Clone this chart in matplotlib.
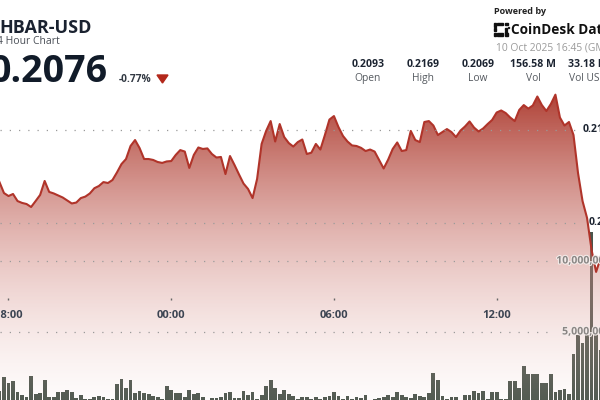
import numpy as np
import pandas as pd
import matplotlib
matplotlib.use("Agg")
import matplotlib.pyplot as plt
import matplotlib.dates as mdates
import matplotlib.transforms as mtransforms
import matplotlib.patheffects as pe
from matplotlib.patches import Rectangle, Polygon

# HBAR-USD, 10 minute points (visible part of the 24h window)
start = "2025-10-09 17:40"
prices = [
    0.21220, 0.21161, 0.21145, 0.21156, 0.21118, 0.21108, 0.21102, 0.21086, 0.21118, 0.21151,
    0.21226, 0.21167, 0.21159, 0.21148, 0.21137, 0.21121, 0.21105, 0.21110, 0.21134, 0.21142,
    0.21159, 0.21187, 0.21199, 0.21220, 0.21215, 0.21231, 0.21272, 0.21317, 0.21344, 0.21414,
    0.21446, 0.21403, 0.21344, 0.21344, 0.21339, 0.21328, 0.21323, 0.21331, 0.21333, 0.21366,
    0.21392, 0.21384, 0.21296, 0.21366, 0.21406, 0.21398, 0.21401, 0.21371, 0.21352, 0.21355,
    0.21263, 0.21360, 0.21312, 0.21261, 0.21212, 0.21183, 0.21134, 0.21237, 0.21425, 0.21495,
    0.21548, 0.21438, 0.21532, 0.21462, 0.21430, 0.21411, 0.21435, 0.21449, 0.21371, 0.21378,
    0.21425, 0.21395, 0.21473, 0.21556, 0.21575, 0.21516, 0.21468, 0.21438, 0.21417, 0.21414,
    0.21404, 0.21387, 0.21395, 0.21384, 0.21339, 0.21293, 0.21341, 0.21398, 0.21433, 0.21387,
    0.21392, 0.21495, 0.21446, 0.21435, 0.21543, 0.21548, 0.21524, 0.21473, 0.21489, 0.21505,
    0.21489, 0.21462, 0.21497, 0.21519, 0.21546, 0.21513, 0.21492, 0.21508, 0.21532, 0.21554,
    0.21594, 0.21605, 0.21591, 0.21567, 0.21548, 0.21608, 0.21634, 0.21615, 0.21632, 0.21680,
    0.21634, 0.21602, 0.21640, 0.21690, 0.21567, 0.21524, 0.21543, 0.21473, 0.21269, 0.21118,
    0.21027, 0.20855, 0.20737, 0.20812]
# volume in millions of HBAR
volumes_m = [
    0.85, 1.85, 1.39, 1.57, 0.80, 0.56, 0.40, 1.90, 0.63, 0.68,
    1.62, 0.40, 0.40, 0.75, 0.75, 0.92, 0.80, 0.33, 0.56, 0.28,
    0.28, 0.45, 0.52, 0.40, 0.30, 0.28, 1.31, 1.69, 1.08, 1.62,
    0.73, 0.85, 0.68, 0.61, 0.52, 0.45, 0.30, 1.22, 0.92, 0.68,
    0.68, 0.45, 0.92, 0.63, 0.68, 0.40, 0.21, 0.38, 0.38, 0.45,
    0.68, 0.80, 0.33, 0.33, 0.87, 0.56, 0.80, 0.30, 0.54, 1.20,
    1.62, 1.08, 0.61, 0.92, 0.61, 0.52, 0.30, 0.45, 0.45, 0.30,
    0.45, 0.30, 0.45, 0.49, 0.75, 0.52, 0.30, 0.52, 0.30, 0.40,
    0.38, 0.56, 0.21, 0.30, 0.33, 0.45, 0.59, 0.40, 0.77, 0.54,
    0.45, 0.33, 0.63, 0.49, 0.40, 0.68, 2.13, 1.62, 0.49, 0.30,
    0.42, 0.42, 0.21, 0.54, 0.54, 0.85, 0.68, 0.82, 0.30, 0.75,
    0.77, 0.30, 0.26, 1.53, 1.53, 1.08, 2.63, 2.07, 2.07, 2.03,
    1.41, 1.41, 2.07, 0.80, 0.92, 0.96, 0.63, 3.47, 4.80, 4.20,
    5.00, 12.05, 5.10, 3.70]

price_ticks = [0.21, 0.215]
price_tick_labels = ["0.21", "0.215"]
volume_ticks = [5_000_000, 10_000_000]
volume_tick_labels = ["5,000,000", "10,000,000"]
time_ticks = pd.to_datetime(["2025-10-09 18:00", "2025-10-10 00:00",
                             "2025-10-10 06:00", "2025-10-10 12:00"])

stat_values = ["0.2093", "0.2169", "0.2069", "156.58 M", "33.18 M"]
stat_labels = ["Open", "High", "Low", "Vol", "Vol USD"]

times = pd.date_range(start, periods=len(prices), freq="10min")
tn = mdates.date2num(times)
volumes = np.array(volumes_m) * 1e6

FONT = "Open Sans"
W, H = 600, 400


def fx(px):
    return px / W


def fy(py):
    return 1 - py / H


fig = plt.figure(figsize=(6, 4), dpi=100)
fig.patch.set_facecolor("white")

# volume pane (drawn first, underneath), price pane on top
axv = fig.add_axes([0, 0, 1, 1])
ax = fig.add_axes([0, 0, 1, 1], sharex=axv)
ax.patch.set_visible(False)
axv.axis("off")
ax.axis("off")

t0 = mdates.date2num(pd.Timestamp("2025-10-09 18:00"))
axv.set_xlim(t0 - 0.3134 / 24, t0 + 21.8105 / 24)
ax.set_ylim(0.200484, 0.221989)
axv.set_ylim(211_268, 28_380_282)

# volume bars
axv.bar(tn, volumes, width=8.4 / 1440, color="#4a554c", edgecolor="none")

# gradient area under the price line
poly = ax.fill_between(tn, prices, 0.19, facecolor="none", edgecolor="none")
yy = np.arange(H) + 0.5
f = np.clip((yy - 85) / (403 - 85), 0, 1)
c_top = np.array([168, 48, 36]) / 255
c_bot = np.array([240, 200, 196]) / 255
grad = np.zeros((H, 1, 4))
grad[:, 0, :3] = c_top + (c_bot - c_top) * f[:, None]
grad[:, 0, 3] = 0.96 + (0.05 - 0.96) * f
im = ax.imshow(grad, extent=[0, 1, 0, 1], transform=ax.transAxes,
               aspect="auto", origin="upper", interpolation="bilinear")
im.set_clip_path(poly.get_paths()[0], transform=ax.transData)

ax.plot(tn, prices, color="#b0342a", lw=1.5, solid_joinstyle="round")

# dotted grid lines + right-hand labels
dots = (0, (1, 6.4))
ptrans = mtransforms.blended_transform_factory(ax.transAxes, ax.transData)
for p, lab in zip(price_ticks, price_tick_labels):
    ax.axhline(p, xmin=0, xmax=0.965, color="#9a9a9a", lw=0.9, ls=dots)
    ax.text(1.016, p, lab, transform=ptrans, ha="right", va="center", fontsize=7.6,
            fontweight="bold", color="#1c2431", family=FONT, clip_on=False)
vtrans = mtransforms.blended_transform_factory(ax.transAxes, axv.transData)
for v, lab in zip(volume_ticks, volume_tick_labels):
    ax.plot([0, 0.92], [v, v], transform=vtrans, color="#9a9a9a", lw=0.9, ls=dots)
    ax.text(1.017, v, lab, transform=vtrans, ha="right", va="center", fontsize=7.6,
            fontweight="bold", color="#8a8684", family=FONT, clip_on=False,
            path_effects=[pe.withStroke(linewidth=1.5, foreground="#f4ecea")])

# time axis sitting between the two panes
axx = fig.add_axes([0, fy(298), 1, 0.0001], sharex=axv)
axx.patch.set_visible(False)
for s in axx.spines.values():
    s.set_visible(False)
axx.yaxis.set_visible(False)
axx.set_xticks(mdates.date2num(time_ticks))
axx.xaxis.set_major_formatter(mdates.DateFormatter("%H:%M"))
axx.tick_params(axis="x", length=1.5, width=1, color="#666666", pad=7,
                labelsize=8, labelcolor="#3c4452")
for lbl in axx.get_xticklabels():
    lbl.set_fontweight("bold")
    lbl.set_family(FONT)

# header, left
fig.text(fx(-1), fy(33), "HBAR-USD", fontsize=13, fontweight="bold", color="#1a2230", family=FONT)
fig.text(fx(-9), fy(44), "24 Hour Chart", fontsize=7.5, color="#4a4f57", family=FONT)
fig.text(fx(-10), fy(82), "0.2076", fontsize=27, fontweight="bold", color="#111b29", family=FONT)
fig.text(fx(119), fy(82), "-0.77%", fontsize=7.3, fontweight="bold", color="#333a44", family=FONT)
fig.patches.append(Polygon([[fx(157), fy(75)], [fx(168), fy(75)], [fx(162.5), fy(83)]],
                           closed=True, transform=fig.transFigure, color="#b3281b"))

# header, right
fig.text(fx(494), fy(13.5), "Powered by", fontsize=6.5, fontweight="bold", color="#222222", family=FONT)
for (x0, y0, w, h) in [(494, 23, 2.2, 3.5), (494, 28, 2.2, 3), (494, 32.5, 2.2, 3.2),
                       (497, 23, 6, 2.2), (497, 33.3, 6, 2.2), (504.5, 23, 3, 2.2),
                       (504.5, 27.5, 2.2, 2.2), (504.5, 31, 2.2, 2.2), (504.5, 33.3, 3, 2.2),
                       (507.5, 26.5, 1.6, 1.6)]:
    fig.patches.append(Rectangle((fx(x0), fy(y0 + h)), w / W, h / H,
                                 transform=fig.transFigure, color="#111111"))
fig.text(fx(511), fy(34.3), "CoinDesk Data", fontsize=9.8, fontweight="bold", color="#111111", family=FONT)
fig.text(fx(496), fy(51), "10 Oct 2025 16:45 (GMT)", fontsize=7.4, color="#9a9a9a", family=FONT)

for i, (val, lab) in enumerate(zip(stat_values, stat_labels)):
    cx = 368 + 55 * i
    fig.text(fx(cx), fy(66.7), val, fontsize=7.6, fontweight="bold", color="#1c2431",
             ha="center", family=FONT)
    fig.text(fx(cx), fy(80.7), lab, fontsize=7.4, color="#555a60", ha="center", family=FONT)

plt.savefig("out.png", dpi=100)
